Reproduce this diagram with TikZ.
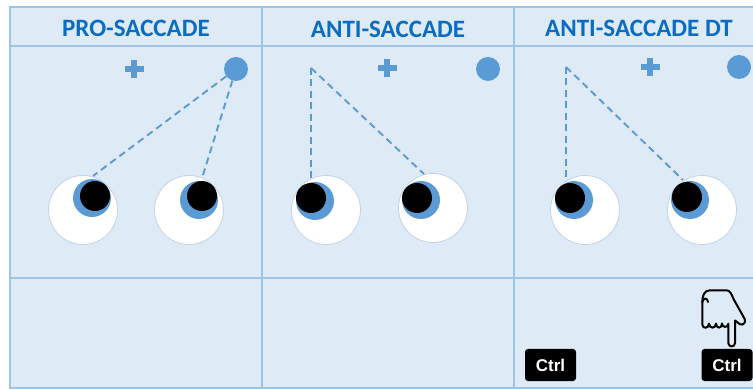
\documentclass[tikz,border=0pt]{standalone}
\usepackage{fontspec}
\setmainfont{Carlito}
\newfontfamily\keyfont{Liberation Sans}
\definecolor{panelfill}{HTML}{DEEBF7}
\definecolor{gridblue}{HTML}{9DC3E6}
\definecolor{accent}{HTML}{5B9BD5}
\definecolor{titleblue}{HTML}{0A6CC2}
\definecolor{eyerim}{HTML}{C3D3E4}

\tikzset{
  gridline/.style={draw=gridblue, line width=2pt},
  paneltitle/.style={font=\fontsize{25}{28}\selectfont\bfseries, text=titleblue, inner sep=0pt},
  target/.style={circle, fill=accent, minimum size=24pt, inner sep=0pt},
  eyewhite/.style={circle, fill=white, draw=eyerim, line width=0.8pt, minimum size=69pt, inner sep=0pt},
  iris/.style={circle, fill=accent, minimum size=38pt, inner sep=0pt},
  pupil/.style={circle, fill=black, minimum size=30pt, inner sep=0pt},
  gaze/.style={draw=accent, line width=1.9pt, dash pattern=on 7pt off 4.5pt},
  keycap/.style={fill=black, rounded corners=3pt, minimum width=51pt, minimum height=32pt,
    inner sep=0pt, text=white, font=\keyfont\fontsize{17}{19}\selectfont\bfseries},
  handline/.style={draw=black, line width=2pt, line join=round, line cap=round}
}

% one eye: name, white centre, iris centre, pupil centre
\newcommand{\drawEye}[7]{%
  \node[eyewhite] (#1w) at (#2,#3) {};
  \node[iris] (#1i) at (#4,#5) {};
  \node[pupil] (#1p) at (#6,#7) {};
}
% filled plus sign centred at (x,y)
\newcommand{\plusmark}[2]{%
  \fill[accent] ({#1-9.5},{#2-3.3}) rectangle ({#1+9.5},{#2+3.3});
  \fill[accent] ({#1-3.3},{#2-9}) rectangle ({#1+3.3},{#2+9});
}

\begin{document}
\begin{tikzpicture}[x=1pt, y=-1pt]
\useasboundingbox (0,0) rectangle (753,390);
\clip (0,0) rectangle (753,390);
\fill[white] (0,0) rectangle (753,390);

% panel grid
\fill[panelfill] (10,7) rectangle (766,388);
\draw[gridline] (10,7) rectangle (766,388);
\draw[gridline] (10,46) -- (766,46);
\draw[gridline] (10,278) -- (766,278);
\draw[gridline] (262,7) -- (262,388);
\draw[gridline] (514,7) -- (514,388);

% titles
\node[paneltitle] (h1) at (136,28) {PRO-SACCADE};
\node[paneltitle] (h2) at (388,29) {ANTI-SACCADE};
\node[paneltitle] (h3) at (639,28) {ANTI-SACCADE DT};

% fixation crosses and targets
\plusmark{134}{69}
\plusmark{387}{68}
\plusmark{650}{67}
\node[target] (t1) at (236,69) {};
\node[target] (t2) at (488,69) {};
\node[target] (t3) at (739,67) {};

% eyes
\drawEye{e1}{83}{210}{92}{198}{95}{196}
\drawEye{e2}{189}{210}{199}{200}{202}{196}
\drawEye{e3}{326}{210}{315}{201}{311}{198}
\drawEye{e4}{433}{208}{421}{200}{417}{198}
\drawEye{e5}{585}{210}{574}{200}{570}{198}
\drawEye{e6}{702}{210}{690}{200}{687}{197}

% gaze lines
\coordinate (g1) at (93,176);
\coordinate (g2) at (203,175);
\draw[gaze] (t1) -- (g1);
\draw[gaze] (t1) -- (g2);

\coordinate (a2) at (311,68);
\coordinate (g3) at (311,178);
\coordinate (g4) at (424,174);
\draw[gaze] (a2) -- (g3);
\draw[gaze] (a2) -- (g4);

\coordinate (a3) at (566,67);
\coordinate (g5) at (566,179);
\coordinate (g6) at (683,180);
\draw[gaze] (a3) -- (g5);
\draw[gaze] (a3) -- (g6);

% keys
\node[keycap] (k1) at (550.5,365) {Ctrl};
\node[keycap] (k2) at (727,365) {Ctrl};

% pointing hand
\draw[handline]
  (728.3,323.7) -- (728.3,343)
  .. controls (728.3,347.5) and (735,347.5) .. (735,343)
  -- (735,320.5)
  -- (740,324.2)
  .. controls (743,326) and (746.5,322) .. (744.6,318.8)
  -- (733.5,299)
  .. controls (731.5,294) and (730,290.3) .. (726.5,290.3)
  -- (710,290.3)
  .. controls (704,290.3) and (702.3,296) .. (702.3,302)
  -- (702.3,324.5)
  .. controls (702.3,329) and (709,329) .. (709,323.5)
  .. controls (709,329) and (716,329) .. (716,323.5)
  .. controls (716,329) and (722,329) .. (722,323.5)
  .. controls (722,328) and (728.3,328) .. (728.3,323.7);
\draw[handline] (702.3,302) .. controls (703.5,297.5) and (707.5,297.5) .. (708,302);
\end{tikzpicture}
\end{document}
